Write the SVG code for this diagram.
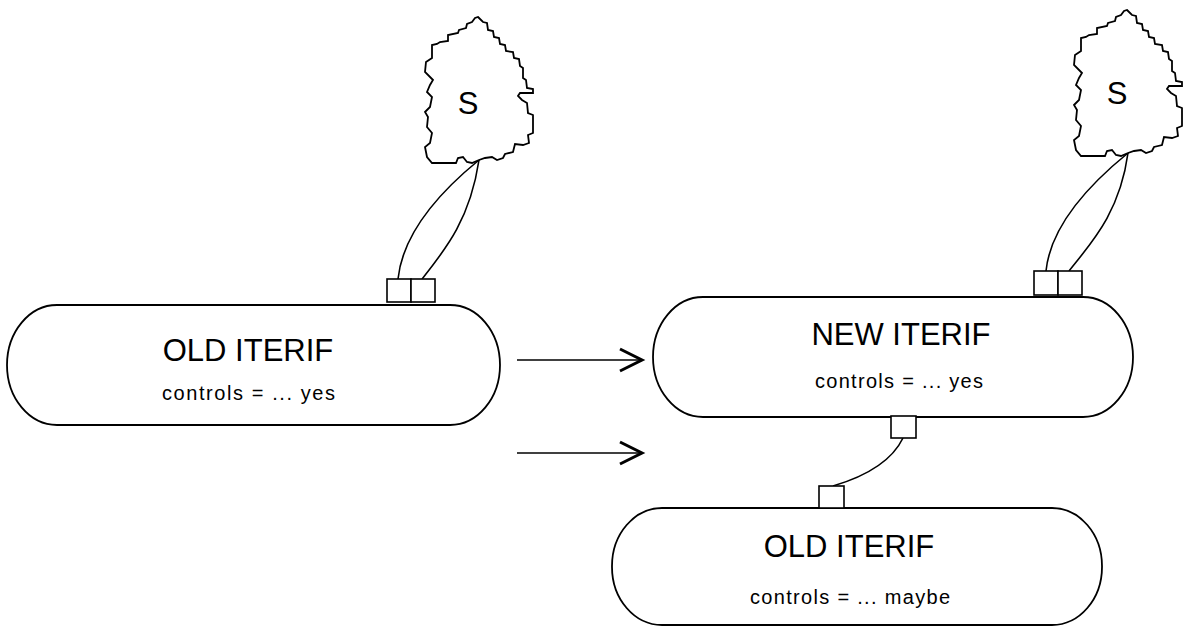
<svg xmlns="http://www.w3.org/2000/svg" width="1194" height="630" viewBox="0 0 1194 630">
<style>
.ln{fill:none;stroke:#000;stroke-width:1.6}
.pill{fill:#fff;stroke:#000;stroke-width:1.8}
.port{fill:#fff;stroke:#000;stroke-width:1.6}
.cloud{fill:#fff;stroke:#000;stroke-width:1.8;stroke-linejoin:miter}
.t1{font-family:"Liberation Sans",Arial,sans-serif;font-size:31px;text-anchor:middle;fill:#000}
.t2{font-family:"Liberation Sans",Arial,sans-serif;font-size:20px;fill:#000}
.head{fill:none;stroke:#000;stroke-width:3;stroke-linejoin:miter}
</style>
<defs>
<path id="cloudShape" d="M478,17 L483,22 L487,23 L488,30 L493,31 L494,37 L499,38 L500,44 L505,45 L506,51 L513,52 L514,58 L519,59 L520,66 L523,68 L523,78 L526,80 L527,88 L533,89 L533,93 L520,93 L518,96 L522,100 L527,103 L528,113 L533,115 L533,133 L528,135 L529,143 L523,145 L515,144 L513,152 L505,154 L503,158 L497,160 L492,157 L485,158 L479,160 L472,163 L467,162 L463,157 L458,158 L456,163 L440,163 L432,163 L427,157 L425,147 L430,143 L432,133 L427,127 L428,117 L425,112 L430,107 L432,97 L427,92 L430,85 L433,80 L425,72 L426,62 L432,58 L432,45 L437,44 L440,42 L448,41 L448,35 L458,33 L459,30 L466,28 L467,24 L472,22 L475,18 Z"/>
</defs>
<rect width="1194" height="630" fill="#fff"/>
<g id="connectors">
<path class="ln" d="M398,279 C402,240 430,200 479,160"/>
<path class="ln" d="M422,279 C445,250 470,220 479,160"/>
<path class="ln" d="M1046,271 C1050,232 1080,192 1128,153"/>
<path class="ln" d="M1069,271 C1092,242 1120,212 1128,153"/>
<path class="ln" d="M903,438 C890,465 860,478 833,486"/>
<path class="ln" d="M517,360 H642"/>
<path class="head" d="M620,349 L642,360 L620,371"/>
<path class="ln" d="M517,453 H642"/>
<path class="head" d="M620,442 L642,453 L620,464"/>
</g>
<g id="cloud-left">
<use href="#cloudShape" class="cloud"/>
<text class="t1" x="468" y="114">S</text>
</g>
<g id="cloud-right">
<use href="#cloudShape" class="cloud" transform="translate(649,-7)"/>
<text class="t1" x="1117" y="104">S</text>
</g>
<g id="old-iterif-left">
<rect class="pill" x="7" y="305" width="493" height="120" rx="50" ry="60"/>
<rect class="port" x="387" y="279" width="24" height="23"/>
<rect class="port" x="411" y="279" width="24" height="23"/>
<text class="t1" x="248" y="361">OLD ITERIF</text>
<text class="t2" x="162" y="400" textLength="173" lengthAdjust="spacing">controls = ... yes</text>
</g>
<g id="new-iterif">
<rect class="pill" x="653" y="297" width="480" height="120" rx="50" ry="60"/>
<rect class="port" x="1034" y="271" width="24" height="24"/>
<rect class="port" x="1058" y="271" width="24" height="24"/>
<rect class="port" x="891" y="416" width="25" height="22"/>
<text class="t1" x="901" y="345">NEW ITERIF</text>
<text class="t2" x="815" y="388" textLength="168" lengthAdjust="spacing">controls = ... yes</text>
</g>
<g id="old-iterif-bottom">
<rect class="pill" x="612" y="508" width="490" height="117" rx="50" ry="58"/>
<rect class="port" x="819" y="486" width="25" height="22"/>
<text class="t1" x="849" y="557">OLD ITERIF</text>
<text class="t2" x="750" y="604" textLength="200" lengthAdjust="spacing">controls = ... maybe</text>
</g>
</svg>
